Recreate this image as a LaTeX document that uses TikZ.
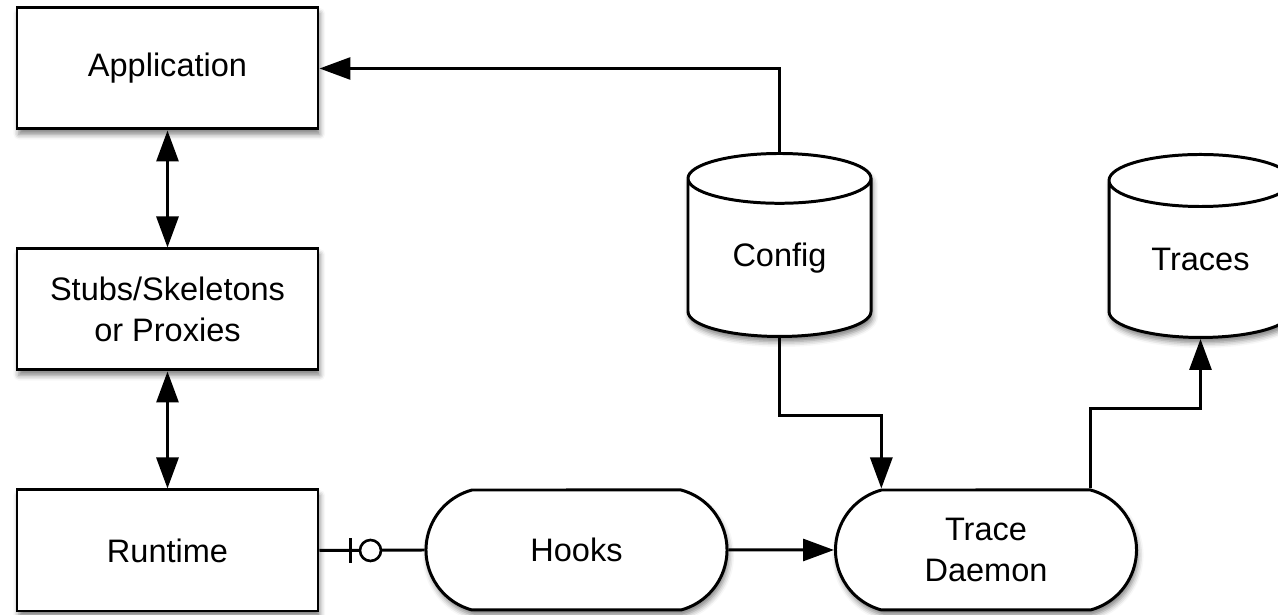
\documentclass[tikz,border=0pt]{standalone}
\usepackage{fontspec}
\setmainfont{Liberation Sans}
\usetikzlibrary{arrows.meta,shapes.geometric,shapes.misc,shadows.blur}

\begin{document}
\begin{tikzpicture}[
		line width=1.7pt,
		tip/.style={-{Triangle[length=0.62cm,width=0.44cm]}},
		both/.style={{Triangle[length=0.62cm,width=0.44cm]}-{Triangle[length=0.62cm,width=0.44cm]}},
		shade/.style={blur shadow={shadow xshift=1pt, shadow yshift=-3pt, shadow blur radius=3pt, shadow opacity=50}},
		block/.style={rectangle, draw, fill=white, shade, minimum width=6.02cm, minimum height=2.42cm, inner sep=0pt, align=center, font=\fontsize{18.5}{23.5}\selectfont},
		pill/.style={rounded rectangle, rounded rectangle arc length=150, draw, fill=white, shade, minimum width=6.02cm, minimum height=2.4cm, inner sep=0pt, align=center, font=\fontsize{18.5}{23.5}\selectfont},
		store/.style={cylinder, shape border rotate=90, aspect=0.53, draw, fill=white, shade, minimum width=3.66cm, minimum height=3.66cm, inner sep=0pt, anchor=north, font=\fontsize{18.5}{23.5}\selectfont}
	]
		\useasboundingbox (0,0) rectangle (25.56,12.3);
		
		%left column
		\node[block] (app) at (3.35, 10.93){Application};
		\node[block] (stubs) at (3.35, 6.11){Stubs/Skeletons\\or Proxies};
		\node[block] (runtime) at (3.35, 1.29){Runtime};
		
		%bottom row
		\node[pill] (hooks) at (11.53, 1.30){Hooks};
		\node[pill] (daemon) at (19.72, 1.30){Trace\\Daemon};
		
		%stores
		\node[store] (config) at (15.59, 9.26){Config};
		\node[store] (traces) at (24.01, 9.24){Traces};
		
		\draw[both] (app) -- (stubs);
		\draw[both] (stubs) -- (runtime);
		
		\draw (runtime.east) -- (hooks.west);
		\draw ([xshift=0.62cm, yshift=-0.25cm]runtime.east) -- ([xshift=0.62cm, yshift=0.25cm]runtime.east);
		\node[circle, draw, fill=white, minimum size=0.42cm, inner sep=0pt, line width=1.5pt] (opt) at ([xshift=1.02cm]runtime.east){};
		
		\draw[tip] (hooks) -- (daemon);
		\draw[tip] (config.north) |- (app.east);
		\draw[tip] (config.south) -- ++(0,-1.56) -| (daemon.north west);
		\draw[tip] (daemon.north east) -- ++(0,1.6) -| (traces.south);
\end{tikzpicture}
\end{document}
